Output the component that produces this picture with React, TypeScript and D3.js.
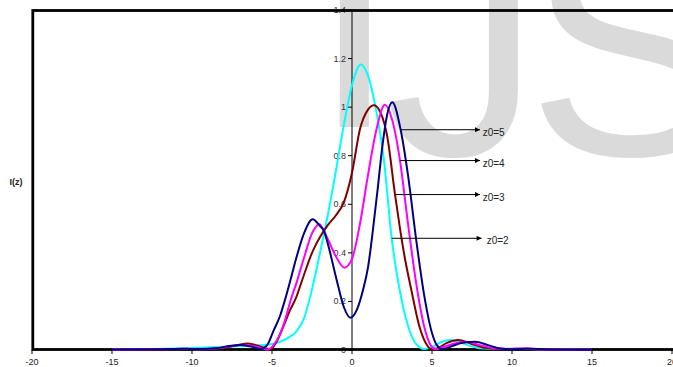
import React from 'react';
import * as d3 from 'd3';

const W = 673;
const H = 367;

const xTicks = [-20, -15, -10, -5, 0, 5, 10, 15, 20];
const yTicks = [0, 0.2, 0.4, 0.6, 0.8, 1, 1.2, 1.4];

// Intensity profiles I(z) for four values of z0: [z, I]
const z0_2: [number, number][] = [
  [-15, 0.003], [-13, 0.004], [-11, 0.006], [-9.5, 0.009], [-8, 0.013], [-7, 0.016],
  [-6, 0.019], [-5.5, 0.021], [-5, 0.025], [-4.5, 0.034], [-4, 0.05], [-3.5, 0.075],
  [-3, 0.13], [-2.5, 0.25], [-2, 0.4], [-1.5, 0.56], [-1, 0.74], [-0.5, 0.93],
  [0, 1.09], [0.55, 1.176], [1, 1.13], [1.5, 0.99], [2, 0.78], [2.48, 0.46],
  [3, 0.24], [3.5, 0.1], [4, 0.025], [4.5, 0.004], [5, 0.012], [5.5, 0.03],
  [6.1, 0.041], [6.7, 0.033], [7.3, 0.018], [8, 0.007], [9, 0.004], [10, 0.005],
  [11, 0.004], [12.5, 0.002], [15, 0.001],
];

const z0_3: [number, number][] = [
  [-15, 0.002], [-12, 0.003], [-10.5, 0.004], [-9, 0.004], [-8.2, 0.007], [-7.3, 0.018],
  [-6.5, 0.027], [-5.8, 0.016], [-5.1, 0.003], [-4.7, 0.035], [-4.3, 0.095], [-3.9, 0.16],
  [-3.5, 0.215], [-3, 0.31], [-2.5, 0.4], [-2, 0.465], [-1.5, 0.515], [-1, 0.555],
  [-0.5, 0.61], [0, 0.73], [0.5, 0.91], [1, 0.99], [1.375, 1.008], [1.8, 0.975],
  [2.2, 0.88], [2.69, 0.64], [3, 0.5], [3.3, 0.38], [3.7, 0.25], [4.2, 0.1],
  [4.6, 0.03], [4.95, 0.004], [5.3, 0.006], [5.9, 0.028], [6.64, 0.041], [7.4, 0.027],
  [8.2, 0.01], [9.2, 0.004], [10.2, 0.005], [11.5, 0.003], [15, 0.001],
];

const z0_4: [number, number][] = [
  [-15, 0.002], [-12, 0.003], [-10.5, 0.005], [-9.5, 0.003], [-8.5, 0.006], [-7.6, 0.015],
  [-6.7, 0.022], [-5.9, 0.012], [-5.3, 0.002], [-4.9, 0.02], [-4.5, 0.065], [-4.2, 0.12],
  [-3.83, 0.206], [-3.5, 0.27], [-3, 0.38], [-2.5, 0.48], [-2.04, 0.518], [-1.75, 0.49],
  [-1.5, 0.455], [-1, 0.385], [-0.48, 0.339], [0, 0.375], [0.5, 0.52], [1, 0.72],
  [1.5, 0.9], [2.06, 1.01], [2.5, 0.95], [3, 0.78], [3.5, 0.52], [4, 0.28],
  [4.5, 0.1], [4.9, 0.022], [5.25, 0.003], [5.6, 0.01], [6.4, 0.027], [7.17, 0.034],
  [8, 0.02], [8.9, 0.007], [9.8, 0.004], [10.6, 0.006], [12, 0.002], [15, 0.001],
];

const z0_5: [number, number][] = [
  [-15, 0.002], [-12, 0.003], [-10.5, 0.005], [-9.5, 0.004], [-8.5, 0.007], [-7.7, 0.016],
  [-7, 0.021], [-6.3, 0.014], [-5.7, 0.004], [-5.3, 0.02], [-4.9, 0.08], [-4.5, 0.14],
  [-4.19, 0.206], [-3.8, 0.3], [-3.46, 0.384], [-3, 0.48], [-2.46, 0.538], [-2, 0.51],
  [-1.75, 0.49], [-1.5, 0.435], [-1, 0.3], [-0.5, 0.175], [-0.1, 0.133], [0.3, 0.165],
  [0.7, 0.25], [1, 0.34], [1.3, 0.49], [1.6, 0.66], [1.9, 0.84], [2.2, 0.97],
  [2.52, 1.02], [3.04, 0.907], [3.5, 0.72], [4, 0.46], [4.5, 0.23], [5, 0.07],
  [5.3, 0.02], [5.65, 0.003], [6.1, 0.012], [6.9, 0.03], [7.7, 0.034], [8.5, 0.02],
  [9.3, 0.006], [10.1, 0.003], [10.9, 0.006], [12.2, 0.002], [15, 0.001],
];

const seriesData = [z0_2, z0_3, z0_4, z0_5];
const seriesNames = ['z0=2', 'z0=3', 'z0=4', 'z0=5'];
const seriesColors = ['#00ffff', '#800000', '#ff00ff', '#000080'];

// Callout arrows: start on each curve, point right to the label
const arrowY = [0.46, 0.64, 0.78, 0.907];
const arrowX0 = [2.48, 2.69, 3.0, 3.04];
const arrowX1 = [8.1, 8.0, 8.0, 8.0];
const labelX = [8.42, 8.17, 8.17, 8.17];

export default function App() {
  const x = d3.scaleLinear().domain([-20, 20]).range([32, 672]);
  const y = d3.scaleLinear().domain([0, 1.4]).range([350, 10]);
  const line = d3
    .line<[number, number]>()
    .x((d) => x(d[0]))
    .y((d) => y(d[1]))
    .curve(d3.curveMonotoneX);

  const font = '"Liberation Sans", Arial, sans-serif';

  return (
    <svg
      width={W}
      height={H}
      viewBox={`0 0 ${W} ${H}`}
      style={{ position: 'absolute', left: 0, top: 0, background: '#fff' }}
    >
      <defs>
        <marker id="head" viewBox="0 0 10 10" refX="10" refY="5" markerWidth="6" markerHeight="5" orient="auto" markerUnits="userSpaceOnUse">
          <path d="M0,0 L10,5 L0,10 Z" fill="#000" />
        </marker>
      </defs>

      {/* watermark */}
      <g fill="#dadada" fontFamily={font} fontSize={312}>
        <text x={311} y={127}>I</text>
        <text x={385} y={155}>J</text>
        <text x={527} y={155}>S</text>
      </g>

      {/* y axis through z = 0 */}
      <line x1={x(0)} x2={x(0)} y1={y(1.4)} y2={y(0)} stroke="#000" strokeWidth={1} />
      {yTicks.map((t) => (
        <g key={t}>
          <line x1={x(0) - 4} x2={x(0)} y1={y(t)} y2={y(t)} stroke="#000" strokeWidth={1} />
          <text x={x(0) - 6} y={y(t) + 3} textAnchor="end" fontFamily={font} fontSize={9} fill="#333">
            {t}
          </text>
        </g>
      ))}

      {/* x axis ticks and labels */}
      {xTicks.map((t) => (
        <g key={t}>
          <line x1={x(t)} x2={x(t)} y1={y(0)} y2={y(0) + 4} stroke="#000" strokeWidth={1} />
          <text x={x(t)} y={365} textAnchor="middle" fontFamily={font} fontSize={9} fill="#222">
            {t}
          </text>
        </g>
      ))}

      {/* plot frame */}
      <rect x={32.8} y={10.5} width={720} height={339} fill="none" stroke="#000" strokeWidth={2.8} />

      <text x={16} y={185} textAnchor="middle" fontFamily={font} fontSize={9} fontWeight="bold" fill="#222">
        I(z)
      </text>

      {seriesData.map((d, i) => (
        <path key={seriesNames[i]} d={line(d) || ''} fill="none" stroke={seriesColors[i]} strokeWidth={2} />
      ))}

      {seriesNames.map((n, i) => (
        <g key={n}>
          <line
            x1={x(arrowX0[i])}
            x2={x(arrowX1[i])}
            y1={y(arrowY[i])}
            y2={y(arrowY[i])}
            stroke="#000"
            strokeWidth={1}
            markerEnd="url(#head)"
          />
          <text x={x(labelX[i])} y={y(arrowY[i]) + 6} fontFamily={font} fontSize={10} fill="#222">
            {n}
          </text>
        </g>
      ))}
    </svg>
  );
}
